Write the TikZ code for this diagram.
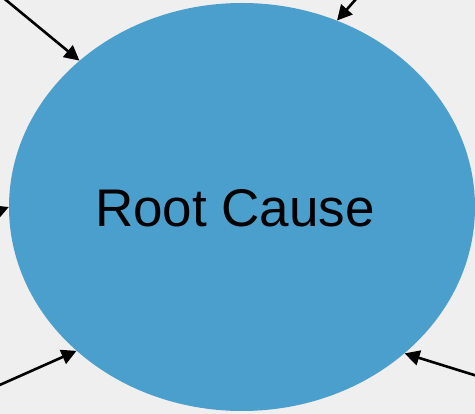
\documentclass[tikz,border=0pt]{standalone}
\usepackage{fontspec}
\setmainfont{Liberation Sans}
\usetikzlibrary{shapes.geometric,arrows.meta}
\definecolor{bgc}{HTML}{EFEFEF}
\definecolor{bluec}{HTML}{4A9FCD}
\tikzset{
  causearrow/.style={draw=black, line width=2.6pt, -{Triangle[length=15pt,width=15pt]}},
  rootshape/.style={ellipse, fill=bluec, draw=none, minimum width=466pt, minimum height=408pt, inner sep=0pt},
  rootlabel/.style={font=\fontsize{53}{62}\selectfont, text=black, inner sep=0pt}
}
\begin{document}
\begin{tikzpicture}[x=1pt,y=-1pt]
\fill[bgc] (0,0) rectangle (475,414);
\useasboundingbox (0,0) rectangle (475,414);
\node[rootshape] (rc) at (242,207) {};
\node[rootlabel] (lbl) at (235,208) {Root Cause};
\coordinate (s1) at (-5,-9);
\coordinate (s2) at (364,-10);
\coordinate (s3) at (-20,218.5);
\coordinate (s4) at (-10,389.3);
\coordinate (s5) at (485,378.4);
\draw[causearrow] (s1) -- (rc.138.7);
\draw[causearrow] (s2) -- (rc.63.1);
\draw[causearrow] (s3) -- (rc.180.2);
\draw[causearrow] (s4) -- (rc.221.3);
\draw[causearrow] (s5) -- (rc.318.7);
\end{tikzpicture}
\end{document}
